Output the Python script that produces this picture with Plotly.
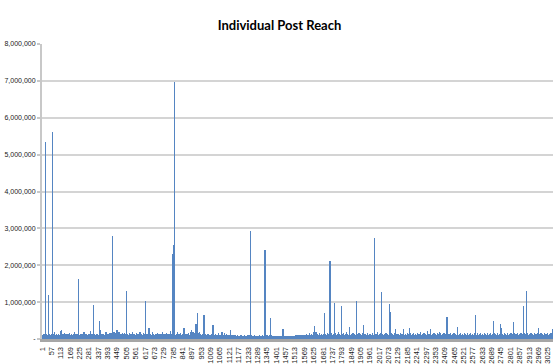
import plotly.graph_objects as go

# Reach per post, in units of 10,000 people (posts 1..3055), one row per 56 posts
reach_10k = [
    6,9,4,11,7,5,12,8, 5,10,7,13,4,8,11,6, 9,5,533,7,12,4,8,10, 6,11,5,9,14,7,4,10, 8,5,12,6,9,11,4,7, 120,6,10,5,13,8,4,9, 7,12,5,10,6,8,14,5,
    9,5,11,7,4,10,562,8, 6,12,5,9,7,13,4,8, 10,6,9,5,18,7,11,4, 8,12,6,10,5,9,7,13, 4,9,11,6,8,5,12,7, 10,5,8,13,6,9,4,11, 7,10,5,8,22,12,6,9,
    5,11,8,24,10,6,9,13, 7,4,12,8,10,5,14,6, 9,12,5,11,7,16,8,4, 10,6,13,7,9,5,11,8, 6,10,4,12,8,14,7,5, 11,9,6,13,5,10,8,12, 4,9,11,7,15,6,10,8,
    7,12,5,9,11,6,14,8, 10,5,13,7,4,11,9,6, 12,8,5,10,7,14,6,9, 11,20,8,12,6,10,5,13, 7,9,4,11,8,6,12,10, 5,13,7,9,11,4,8,12, 6,10,14,7,162,9,5,11,
    8,5,12,10,6,9,13,7, 11,4,8,14,6,10,5,12, 9,7,11,5,13,8,6,10, 12,6,9,18,7,11,4,8, 10,13,5,9,12,6,8,11, 7,10,14,6,9,5,12,8, 11,6,8,13,5,10,7,9,
    6,11,9,5,13,7,10,12, 8,22,6,10,4,12,9,7, 13,5,11,8,6,14,10,4, 9,92,7,12,8,18,5,11, 10,6,13,7,11,4,9,12, 5,8,12,10,6,13,7,9, 11,14,6,9,5,10,12,8,
    7,10,5,12,9,6,13,8, 11,49,8,6,24,10,5,12, 9,7,13,4,11,8,10,6, 12,5,9,14,7,10,6,11, 8,13,6,9,12,5,10,7, 10,6,11,8,4,13,19,9, 6,12,8,10,5,11,7,13,
    9,5,12,7,10,14,6,11, 8,13,5,10,7,9,16,6, 12,7,10,5,13,8,11,4, 10,6,15,280,9,12,7,5, 13,8,11,6,10,5,20,9, 7,12,5,11,8,14,6,10, 16,9,12,22,6,11,8,13,
    24,10,7,17,12,6,20,9, 11,8,13,15,6,10,12,7, 9,18,6,11,13,5,10,8, 12,14,9,7,11,6,13,10, 8,5,12,16,9,11,7,6, 10,13,7,12,5,9,15,11, 6,11,9,13,8,10,14,7,
    9,12,6,129,11,8,5,13, 7,14,10,6,12,9,5,11, 8,6,13,10,7,15,9,12, 10,5,11,8,13,6,9,7, 12,10,6,20,9,7,11,13, 5,9,12,7,14,8,10,6, 11,13,7,10,5,12,8,9,
    10,6,12,9,5,11,16,8, 7,13,5,10,8,12,9,6, 14,8,11,6,10,5,13,9, 7,19,6,12,9,8,11,5, 13,7,10,14,6,9,12,8, 5,11,8,10,15,7,12,6, 9,13,6,11,7,10,14,8,
    11,102,8,6,12,9,5,10, 7,13,9,14,6,8,11,12, 5,10,12,7,13,9,6,30, 11,8,10,12,5,13,7,9, 14,6,11,5,9,12,8,10, 7,9,13,6,11,18,8,5, 12,7,10,13,6,9,11,8,
    12,5,10,8,9,14,6,11, 8,6,13,7,11,9,5,12, 7,10,16,9,5,12,8,13, 10,7,11,6,12,9,7,10, 5,14,8,6,11,12,5,9, 10,7,9,13,6,11,20,8, 9,12,5,11,7,10,13,6,
    11,6,9,13,7,12,8,5, 14,7,10,9,6,12,8,11, 9,16,7,11,5,10,13,8, 12,6,9,7,14,8,11,5, 13,7,10,9,5,11,8,22, 9,12,7,10,5,9,13,8, 11,10,30,8,230,12,26,9,
    255,16,10,7,9,13,6,11, 8,9,697,12,7,10,6,9, 11,7,13,9,5,10,8,9, 12,6,11,8,20,10,5,13, 7,11,9,6,14,8,10,9, 5,12,7,11,9,17,6,10, 9,6,12,8,11,9,5,13,
    7,11,9,13,5,10,8,9, 30,10,7,12,6,9,11,8, 13,9,5,11,7,14,9,10, 6,12,8,9,11,5,13,7, 9,10,17,8,12,9,6,11, 8,12,9,10,5,14,7,9, 11,20,13,8,9,16,11,24,
    13,9,16,8,10,18,9,12, 7,11,20,9,13,8,16,10, 9,14,8,17,18,10,12,9, 40,12,19,10,25,15,35,12, 17,10,71,20,12,9,15,10, 8,12,9,10,18,7,11,9, 12,8,10,6,9,14,7,11,
    9,12,7,10,5,9,14,8, 11,9,6,12,8,10,9,5, 65,16,11,7,9,12,6,10, 8,9,14,7,11,5,9,12, 7,11,9,6,13,8,10,9, 5,14,8,11,9,12,6,9, 10,7,12,9,5,11,8,9,
    12,6,10,8,9,14,7,11, 9,12,20,10,8,12,39,16, 11,7,20,9,5,12,8,10, 9,6,12,7,11,9,14,8, 10,5,9,12,7,11,9,6, 12,8,10,9,5,17,8,11, 9,12,7,10,6,9,12,8,
    10,9,6,12,8,11,9,5, 14,7,11,9,20,12,8,10, 9,6,12,7,11,9,5,12, 8,10,9,16,6,11,7,12, 9,8,11,6,12,9,7,10, 5,14,9,7,11,12,6,9, 10,8,9,12,6,11,7,9,
    10,6,9,8,5,9,7,8, 24,8,6,9,5,8,11,7, 9,5,8,7,11,8,5,9, 7,8,10,5,11,7,8,9, 5,8,7,9,5,8,11,6, 9,5,8,7,9,5,8,6, 11,5,8,9,7,5,8,6,
    8,5,7,9,5,8,6,5, 9,7,5,8,6,10,5,8, 7,5,9,6,8,5,7,9, 5,8,6,5,9,7,5,8, 10,6,5,8,7,9,5,6, 8,5,9,7,5,8,6,5, 9,6,8,5,7,10,5,8,
    6,9,5,8,7,10,5,8, 7,9,5,8,294,10,6,48, 9,7,5,8,10,6,5,9, 6,8,5,9,7,5,8,6, 9,5,6,8,5,10,7,5, 8,6,9,5,7,8,5,9, 6,5,8,7,9,5,8,6,
    8,5,9,6,5,8,7,9, 5,8,6,10,5,7,9,5, 8,6,5,9,7,8,5,6, 9,5,8,6,5,10,7,8, 5,9,6,8,5,7,9,5, 8,65,6,16,9,242,8,11, 6,9,5,8,7,10,5,8,
    6,9,5,8,10,6,5,9, 8,6,5,9,7,8,5,10, 6,8,5,9,7,58,8,5, 9,6,8,5,10,7,5,8, 6,9,5,8,7,5,9,6, 8,5,7,9,5,8,6,5, 9,7,5,8,6,9,5,8,
    6,5,8,7,9,5,6,8, 5,9,7,5,8,6,5,9, 7,8,5,6,9,5,8,7, 5,8,6,9,5,7,8,5, 9,6,5,8,7,5,9,6, 26,8,5,7,9,5,8,6, 5,7,9,5,8,6,5,8,
    7,5,8,5,6,9,5,7, 8,5,6,5,9,7,5,8, 6,9,5,7,8,5,6,5, 8,6,5,9,7,5,8,6, 5,8,6,5,9,7,8,5, 6,5,8,7,5,9,6,8, 5,7,9,8,5,6,8,9,
    8,9,6,11,8,9,6,8, 11,6,9,8,11,6,9,8, 6,11,8,9,6,8,11,6, 9,8,6,11,9,8,6,9, 8,11,6,9,8,6,11,8, 9,6,8,11,6,9,8,11, 6,9,8,6,11,8,9,6,
    9,8,11,6,9,8,12,6, 8,11,6,9,8,14,6,9, 11,8,6,9,12,8,11,6, 9,8,11,6,9,15,8,11, 6,9,8,11,6,12,9,8, 11,6,9,8,14,6,11,9, 8,12,6,9,11,8,20,9,
    11,8,15,36,9,12,8,11, 6,9,14,8,11,6,20,9, 8,11,6,12,9,8,11,6, 14,9,8,11,6,9,12,8, 11,6,9,8,15,11,6,9, 8,12,9,6,11,8,9,14, 6,11,8,9,12,6,11,8,
    9,14,8,11,6,9,15,71, 11,8,9,12,6,11,8,9, 14,6,11,8,9,12,6,11, 8,9,15,6,11,8,12,9, 6,11,8,14,9,6,11,8, 12,212,24,9,8,11,6,9, 15,8,11,6,9,12,8,11,
    9,6,12,8,11,9,6,14, 8,11,6,9,12,8,98,11, 9,6,15,8,11,9,6,12, 8,11,9,6,14,8,11,9, 6,12,8,11,9,20,8,11, 9,6,14,8,11,9,6,12, 8,11,9,6,12,8,90,11,
    9,14,8,11,6,9,12,8, 11,9,6,15,8,11,9,6, 12,8,11,9,6,14,8,11, 9,6,12,8,11,20,6,9, 8,11,9,6,14,8,11,9, 6,12,8,11,9,6,33,14, 8,11,9,6,12,8,11,9,
    6,14,8,11,9,6,12,8, 11,9,6,15,8,11,9,6, 12,8,11,9,6,14,8,11, 9,6,12,8,11,9,103,20, 11,8,85,9,6,14,8,11, 9,6,12,8,11,9,6,15, 8,11,9,6,12,8,11,9,
    6,14,8,11,9,6,12,8, 11,9,6,17,8,11,9,6, 37,8,11,9,34,14,8,11, 9,6,12,8,11,9,6,14, 8,11,9,6,12,8,11,9, 6,15,8,11,9,6,12,8, 11,9,6,14,8,11,9,6,
    12,8,11,9,6,14,8,11, 9,6,12,8,11,9,6,15, 8,11,9,6,12,8,11,9, 6,14,8,11,274,9,6,12, 8,11,9,6,14,8,11,9, 6,12,8,20,9,6,14,8, 11,9,6,12,8,11,9,6,
    14,8,11,9,6,12,8,11, 9,6,15,8,11,9,127,12, 8,11,9,6,14,8,11,9, 6,12,8,11,9,6,14,8, 11,9,6,12,8,11,9,6, 15,8,11,9,6,12,8,11, 9,6,14,8,11,9,6,12,
    8,11,9,6,94,14,8,11, 9,6,74,8,11,9,6,15, 8,11,9,6,12,8,11,9, 6,14,8,11,9,6,12,8, 11,9,6,15,8,11,9,6, 12,8,11,28,6,14,8,11, 9,6,12,8,11,9,6,14,
    8,11,9,6,14,8,11,9, 6,12,8,11,9,6,15,8, 11,9,6,12,8,11,9,6, 14,8,11,9,6,12,8,11, 27,9,6,15,8,11,9,6, 12,8,11,9,6,14,8,11, 9,6,12,8,11,9,6,15,
    8,11,9,6,12,8,11,9, 6,14,8,11,9,6,29,8, 11,9,6,15,8,11,9,6, 12,8,11,9,6,14,8,11, 9,6,12,8,11,9,6,15, 8,11,9,6,12,8,11,9, 6,14,8,11,9,6,12,8,
    11,9,6,15,8,11,9,6, 12,8,11,9,6,14,8,11, 9,6,12,8,18,9,6,15, 8,11,9,6,12,8,11,9, 6,14,8,11,9,6,12,8, 11,9,6,15,8,11,9,6, 12,8,11,9,6,14,8,11,
    9,6,12,8,11,9,6,15, 8,22,9,6,12,8,11,9, 6,14,8,11,9,6,12,8, 11,9,6,15,26,11,9,6, 12,8,11,9,6,14,8,11, 9,6,12,8,11,9,6,15, 8,11,9,6,12,8,11,9,
    6,14,8,11,9,6,12,8, 11,9,6,15,8,11,9,6, 12,8,11,9,6,14,8,11, 9,6,18,8,11,9,6,15, 8,11,9,6,12,8,11,9, 6,14,8,11,9,6,12,8, 11,9,6,15,8,11,9,6,
    12,8,11,9,6,14,8,11, 9,6,12,8,11,59,6,15, 8,40,9,6,12,8,11,9, 6,14,8,11,9,6,12,8, 11,9,6,15,8,11,9,6, 12,8,11,9,6,14,8,11, 9,6,12,8,11,9,6,15,
    8,11,9,6,12,8,11,9, 6,14,8,11,9,6,12,8, 11,9,6,33,8,11,9,6, 12,8,11,9,6,14,8,11, 9,6,12,8,11,9,6,15, 8,11,9,6,12,8,11,9, 6,14,8,11,9,6,12,8,
    11,9,6,15,8,11,9,6, 12,8,11,9,6,14,8,11, 9,6,12,8,11,9,6,15, 8,11,9,6,12,8,11,9, 6,14,8,11,9,6,12,8, 11,9,6,15,8,11,9,6, 12,8,11,9,6,14,8,11,
    9,6,12,8,11,9,6,15, 8,11,9,6,12,8,11,9, 6,65,8,11,9,6,12,8, 11,9,6,15,8,11,9,6, 12,8,11,9,6,14,8,11, 9,6,12,8,11,9,6,15, 8,11,9,6,12,8,11,9,
    6,14,8,11,9,6,12,8, 11,9,6,15,8,11,9,6, 12,8,11,9,6,14,8,11, 9,6,12,8,11,9,6,15, 8,11,9,6,12,8,11,9, 6,14,8,11,9,6,12,8, 11,9,6,15,8,11,9,6,
    12,8,11,9,6,14,8,11, 9,6,12,49,11,9,6,15, 8,11,9,6,12,8,11,9, 6,14,8,11,9,6,12,8, 11,9,6,15,8,11,9,6, 12,8,11,9,6,14,8,11, 9,6,12,8,11,40,6,15,
    8,31,9,6,12,8,11,9, 6,14,8,11,9,6,12,8, 11,9,6,15,8,11,9,6, 12,8,11,9,6,14,8,11, 9,6,12,8,11,9,6,15, 8,11,9,6,12,8,11,9, 6,14,8,11,9,6,12,8,
    11,9,6,15,8,11,9,6, 12,8,11,9,6,14,8,11, 9,6,45,8,11,9,6,15, 8,11,9,6,12,8,11,9, 6,14,8,11,9,6,12,8, 11,9,6,15,8,11,9,6, 12,8,11,9,6,14,8,11,
    9,6,12,8,11,9,6,15, 8,11,9,6,12,8,11,9, 6,14,8,11,9,6,12,8, 89,9,6,15,8,11,9,6, 12,8,11,9,6,14,8,11, 130,6,12,8,11,9,6,15, 8,11,9,6,12,8,11,9,
    6,14,8,11,9,6,12,8, 11,9,6,15,8,11,9,6, 12,8,11,9,6,14,8,11, 9,6,12,8,11,9,6,15, 8,11,9,6,12,8,11,9, 6,14,8,11,9,6,12,8, 11,9,6,15,8,11,31,6,
    12,8,11,9,6,14,8,11, 9,6,12,8,11,9,6,15, 8,11,9,6,12,8,11,9, 6,14,8,11,9,6,12,8, 11,9,6,15,8,11,9,6, 12,8,11,9,6,14,8,11, 9,6,12,8,11,9,6,15,
    8,11,9,6,12,8,11,9, 6,14,8,11,9,6,12,8, 11,9,6,15,8,11,9,6, 12,8,11,9,6,27,9,
]
reach = [v * 10000 for v in reach_10k]
post_ids = list(range(1, len(reach) + 1))

x_tick_posts = list(range(1, 3026, 56))
x_tick_labels = [str(p) for p in x_tick_posts]
y_tick_vals = [0, 1000000, 2000000, 3000000, 4000000, 5000000, 6000000, 7000000, 8000000]
y_tick_labels = ["-", "1,000,000", "2,000,000", "3,000,000", "4,000,000",
                 "5,000,000", "6,000,000", "7,000,000", "8,000,000"]

fig = go.Figure()
fig.add_trace(go.Bar(
    x=post_ids, y=reach,
    marker=dict(color="#5585c2", line=dict(width=0)),
    showlegend=False,
))

fig.update_layout(
    width=559, height=364,
    margin=dict(l=42, r=6, t=44, b=25),
    paper_bgcolor="white", plot_bgcolor="white",
    bargap=0,
    title=dict(text="<b>Individual Post Reach</b>", x=0.5, xref="container",
               y=1 - 25 / 364, yref="container", xanchor="center", yanchor="middle",
               font=dict(family="Lato", size=13, color="#000000")),
    font=dict(family="Liberation Sans", size=7, color="#222222"),
)
fig.update_xaxes(
    range=[0.5, len(reach) + 0.5], automargin=False,
    tickmode="array", tickvals=x_tick_posts, ticktext=x_tick_labels,
    tickangle=-90, tickfont=dict(size=7.5, family="Liberation Sans", color="#222222"),
    showgrid=False, zeroline=False,
    showline=True, linecolor="#a6a6a6", linewidth=3,
    ticks="", ticklabelstandoff=2,
)
fig.update_yaxes(
    range=[0, 8000000], automargin=False,
    tickmode="array", tickvals=y_tick_vals, ticktext=y_tick_labels,
    tickfont=dict(size=7, family="Liberation Sans", color="#222222"),
    showgrid=True, gridcolor="#d4d4d4", gridwidth=1.5,
    zeroline=False, showline=True, linecolor="#c8c8c8", linewidth=2,
    ticks="outside", ticklen=3, tickcolor="#c8c8c8", tickwidth=1.5,
)

fig.write_html("out.html", config={"displayModeBar": False},
               post_script="document.body.style.margin='0px';")
